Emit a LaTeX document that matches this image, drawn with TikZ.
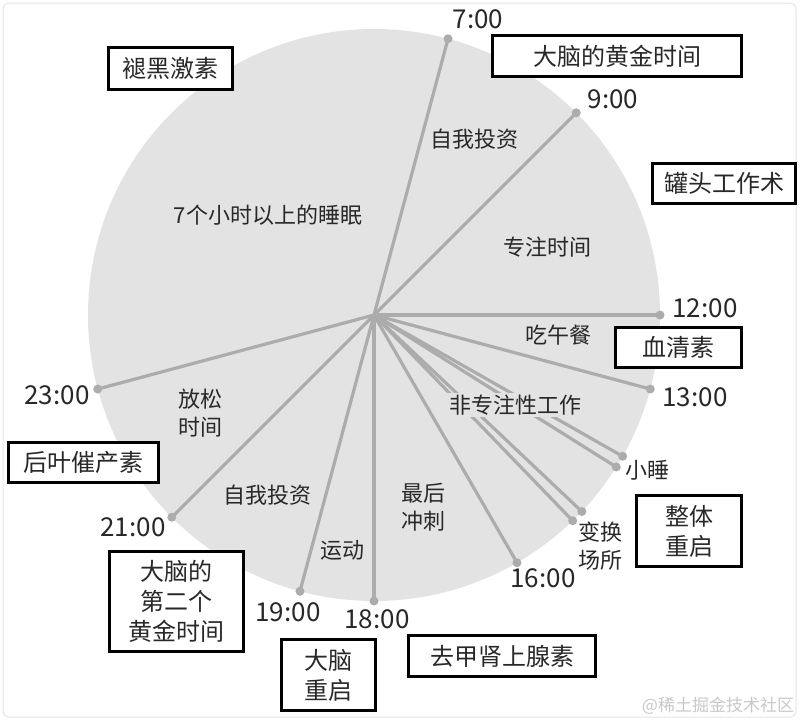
\documentclass[tikz,border=0pt]{standalone}
\usepackage{fontspec}
\setmainfont{Noto Sans CJK SC}
\usepackage{tikz}
\usetikzlibrary{calc}
\definecolor{piegris}{RGB}{227,227,227}
\definecolor{raygris}{RGB}{172,172,172}
\definecolor{txtgris}{RGB}{40,40,40}
\definecolor{wmgris}{RGB}{200,200,200}

\begin{document}
\begin{tikzpicture}[x=1pt, y=1pt,
  tag/.style={rectangle, draw=black, line width=2.6pt, fill=white, text=txtgris,
              font=\fontsize{24}{30}\selectfont, align=center, inner sep=0pt},
  hour/.style={text=txtgris, font=\fontsize{26}{30}\selectfont, inner sep=0pt},
  zone/.style={fill=piegris, text=txtgris, font=\fontsize{22}{28}\selectfont, align=center, inner sep=2pt},
  side/.style={text=txtgris, font=\fontsize{22}{28}\selectfont, align=center, inner sep=0pt},
  ray/.style={raygris, line width=3.2pt},
  tip/.style={circle, fill=raygris, minimum size=9pt, inner sep=0pt}
]
  \useasboundingbox (0,0) rectangle (800,-721);
  \draw[gray!20, line width=1pt, rounded corners=6pt] (3,-3) rectangle (796,-717);

  % Clock face
  \fill[piegris] (374,-315) circle (286);
  \coordinate (hub) at (374,-315);

  % Rays
  \foreach \ang/\nm in {75/r7, 45/r9, 0/r12, -15/r13, -29.6/nap1, -32.1/nap2,
                        -43.4/mov1, -46/mov2, -60/r16, -90/r18, -105/r19, -135/r21, -165/r23}{
    \node[tip] (\nm) at ($(hub)+(\ang:286)$) {};
    \draw[ray] (hub) -- (\nm.center);
  }

  % Hours
  \node[hour] (h7)  at (478,-19)  {7:00};
  \node[hour] (h9)  at (613,-99)  {9:00};
  \node[hour] (h12) at (705,-308) {12:00};
  \node[hour] (h13) at (695,-397) {13:00};
  \node[hour] (h16) at (543,-578) {16:00};
  \node[hour] (h18) at (377,-619) {18:00};
  \node[hour] (h19) at (288,-612) {19:00};
  \node[hour] (h21) at (133,-527) {21:00};
  \node[hour] (h23) at (57,-395)  {23:00};

  % Zones of the day
  \node[zone] (sleep)  at (268,-215) {7个小时以上的睡眠};
  \node[zone] (inv1)   at (474,-139) {自我投资};
  \node[zone] (focus)  at (547,-247) {专注时间};
  \node[zone] (lunch)  at (558,-335) {吃午餐};
  \node[zone] (loose)  at (515,-405) {非专注性工作};
  \node[zone] (relax)  at (200,-413) {放松\\时间};
  \node[zone] (inv2)   at (267,-495) {自我投资};
  \node[zone] (sport)  at (342,-550) {运动};
  \node[zone] (sprint) at (423,-507) {最后\\冲刺};
  \node[side] (nap)    at (647,-470) {小睡};
  \node[side] (move)   at (600,-546) {变换\\场所};

  % Boxes
  \node[tag, minimum width=124pt, minimum height=42pt] (melat) at (170.5,-68.5) {褪黑激素};
  \node[tag, minimum width=249pt, minimum height=41pt] (gold1) at (617,-56) {大脑的黄金时间};
  \node[tag, minimum width=143pt, minimum height=40pt] (can)   at (724,-183.5) {罐头工作术};
  \node[tag, minimum width=126pt, minimum height=40pt] (sero)  at (678.5,-347.5) {血清素};
  \node[tag, minimum width=150pt, minimum height=40pt] (oxy)   at (83.5,-462.5) {后叶催产素};
  \node[tag, minimum width=134pt, minimum height=100pt] (gold2) at (176.5,-601.5) {大脑的\\第二个\\黄金时间};
  \node[tag, minimum width=94pt, minimum height=71pt] (reboot) at (328.5,-675) {大脑\\重启};
  \node[tag, minimum width=187pt, minimum height=41pt] (nora)  at (502,-656) {去甲肾上腺素};
  \node[tag, minimum width=105pt, minimum height=71pt] (whole) at (689,-531) {整体\\重启};

  \node[text=wmgris, font=\fontsize{17}{20}\selectfont, inner sep=0pt] (wm) at (718,-706) {@稀土掘金技术社区};
\end{tikzpicture}
\end{document}
